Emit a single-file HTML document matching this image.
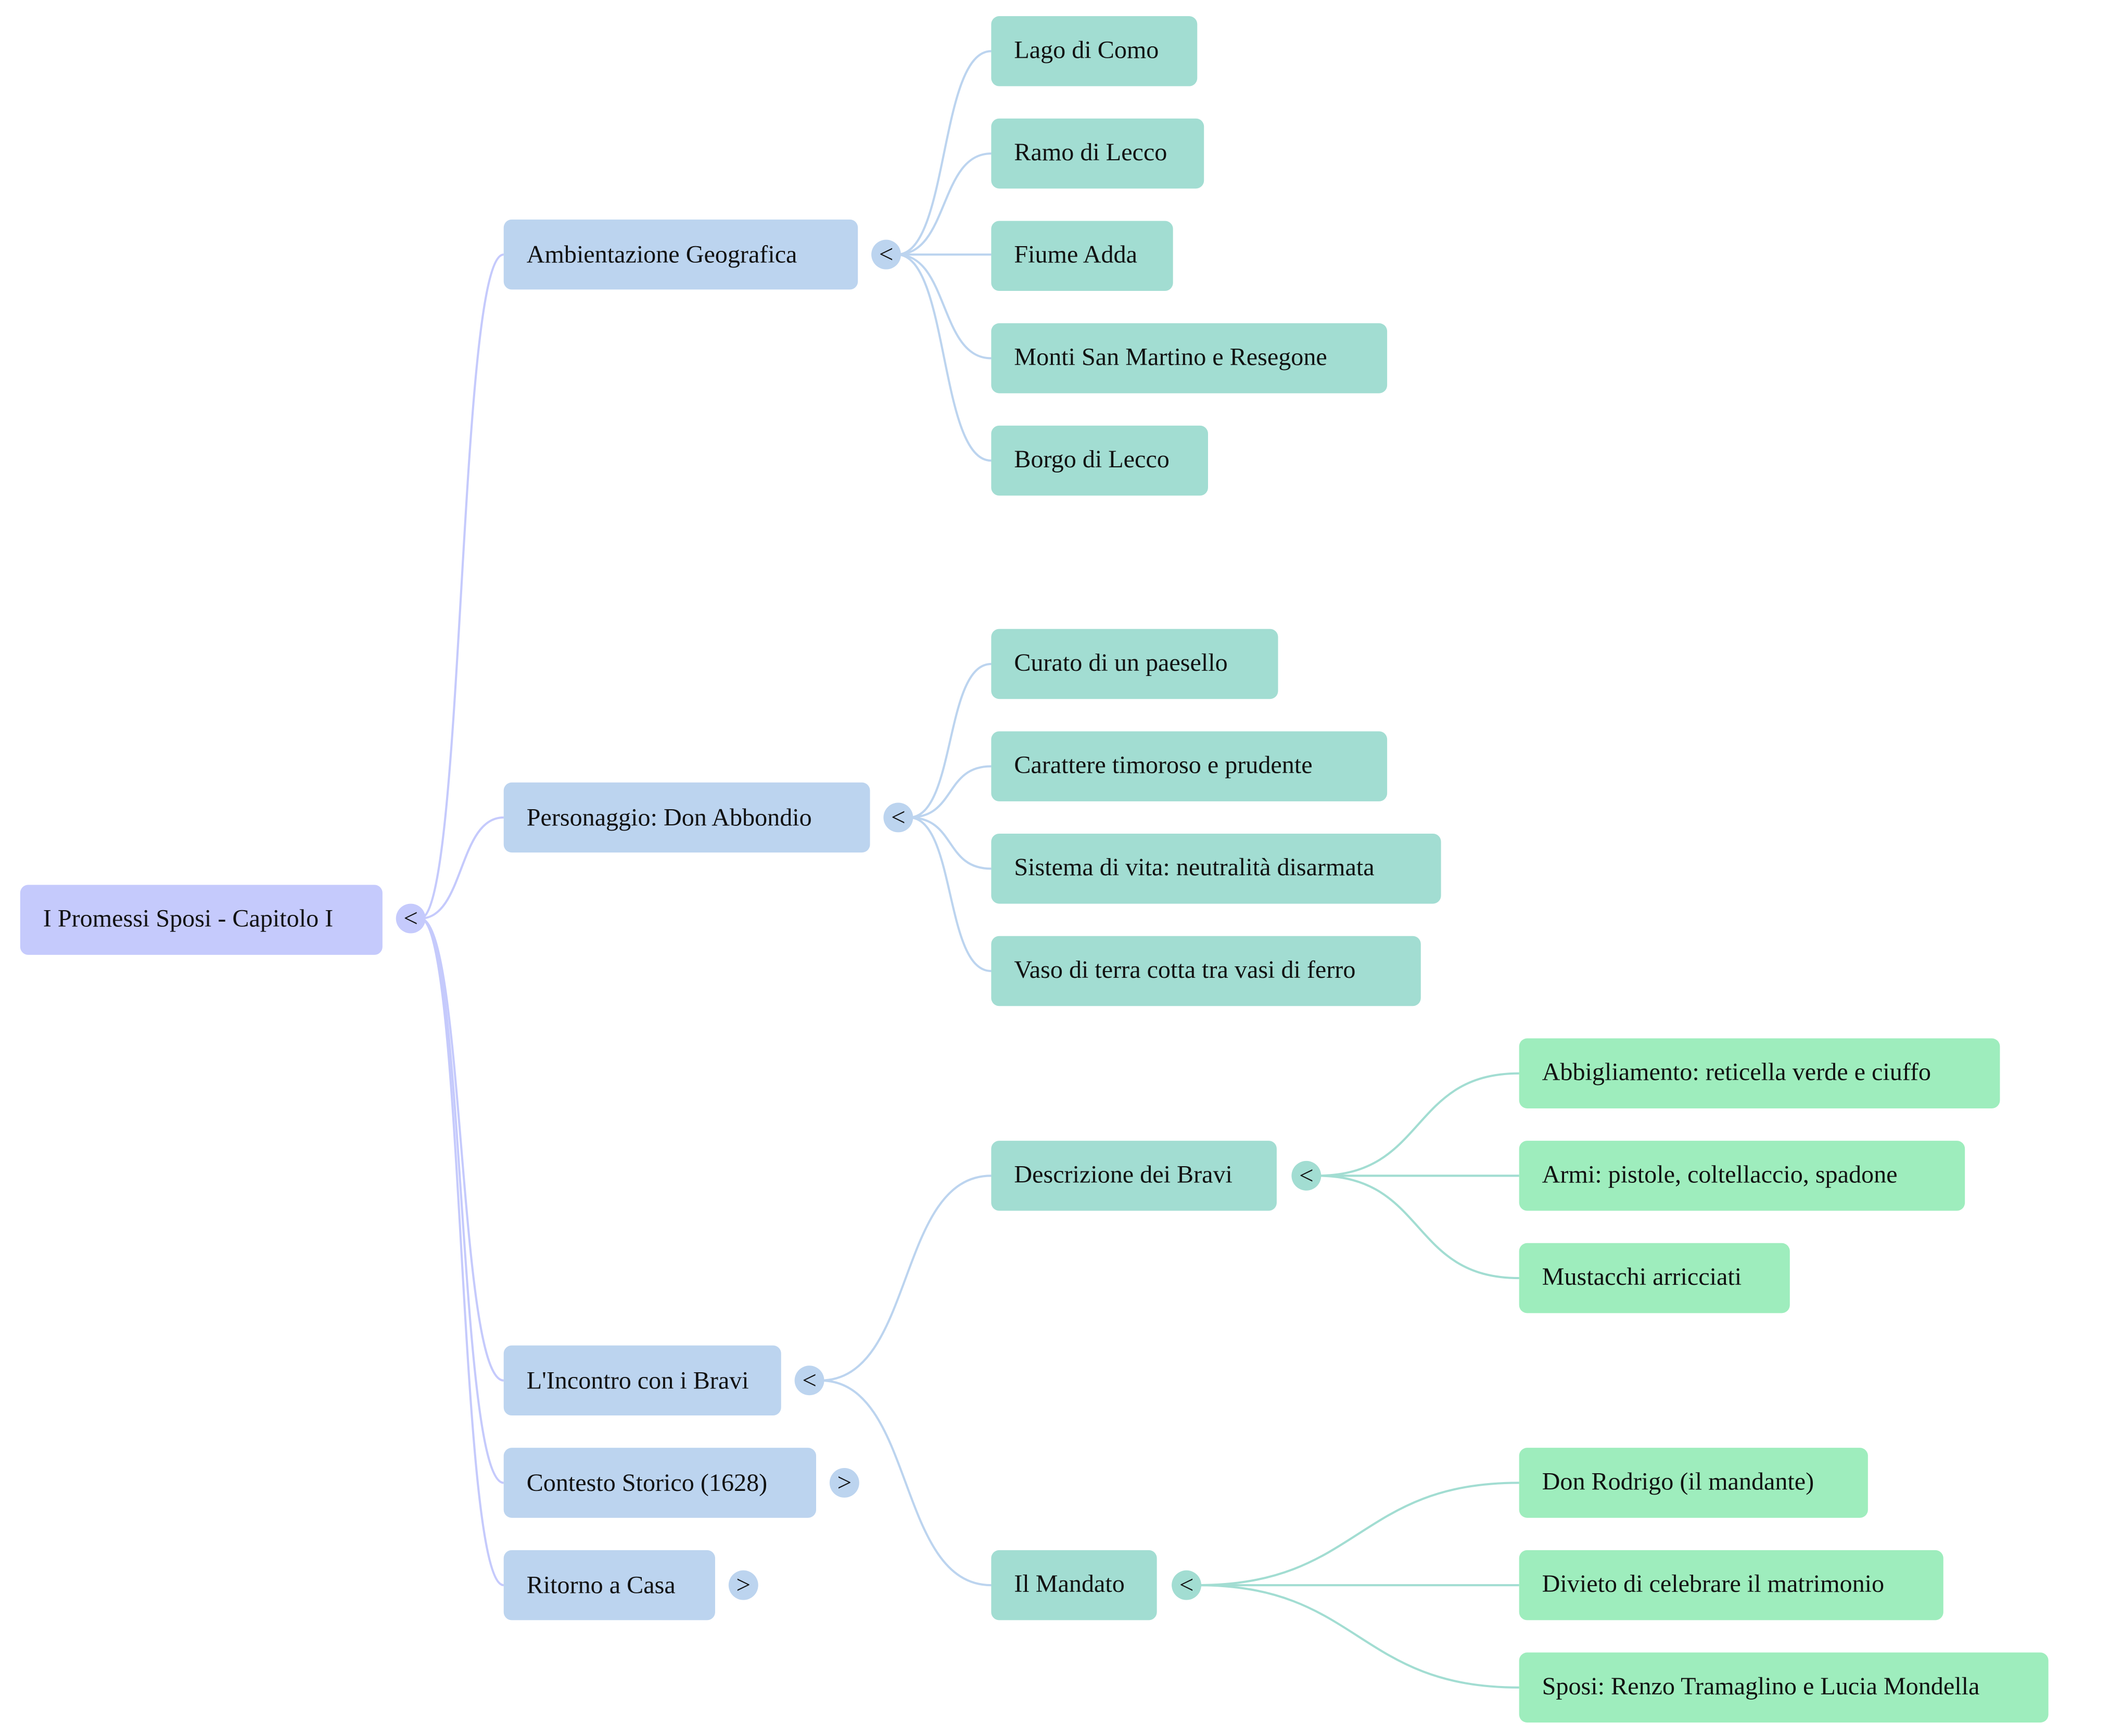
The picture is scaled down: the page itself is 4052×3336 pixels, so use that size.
<!DOCTYPE html>
<html><head><meta charset="utf-8"><style>
html,body{margin:0;padding:0;background:#fff;width:4052px;height:3336px;overflow:hidden}
svg{display:block}
text{font-family:"Liberation Serif",serif;font-size:18.6px;fill:#111}
.c{font-family:"Liberation Serif",serif;font-size:19px;text-anchor:middle}
</style></head><body>
<svg width="4052" height="3336" viewBox="0 0 1566 1289" preserveAspectRatio="none" xmlns="http://www.w3.org/2000/svg">
<g fill="none" stroke-width="1.6">
<g stroke="#c5cafc">
<path d="M312,682 C345,682 340,189 374,189"/>
<path d="M312,682 C345,682 340,607 374,607"/>
<path d="M312,682 C345,682 340,1025 374,1025"/>
<path d="M312,682 C345,682 340,1101 374,1101"/>
<path d="M312,682 C345,682 340,1177 374,1177"/>
</g>
<g stroke="#bcd4ef">
<path d="M666,189 C705,189 697,38 736,38"/>
<path d="M666,189 C705,189 697,114 736,114"/>
<path d="M666,189 L736,189"/>
<path d="M666,189 C705,189 697,266 736,266"/>
<path d="M666,189 C705,189 697,342 736,342"/>
<path d="M675,607 C710,607 701,493 736,493"/>
<path d="M675,607 C710,607 701,569 736,569"/>
<path d="M675,607 C710,607 701,645 736,645"/>
<path d="M675,607 C710,607 701,721 736,721"/>
<path d="M609,1025 C680,1025 665,873 736,873"/>
<path d="M609,1025 C680,1025 665,1177 736,1177"/>
</g>
<g stroke="#a2ddd2">
<path d="M978,873 C1060,873 1046,797 1128,797"/>
<path d="M978,873 L1128,873"/>
<path d="M978,873 C1060,873 1046,949 1128,949"/>
<path d="M889,1177 C1010,1177 1007,1101 1128,1101"/>
<path d="M889,1177 L1128,1177"/>
<path d="M889,1177 C1010,1177 1007,1253 1128,1253"/>
</g>
</g>
<rect x="15" y="657" width="269" height="52" rx="6" fill="#c5cafc"/>
<text x="32" y="688">I Promessi Sposi - Capitolo I</text>
<circle cx="305" cy="682" r="11" fill="#c5cafc"/><text class="c" x="305" y="688">&lt;</text>
<g fill="#bcd4ef">
<rect x="374" y="163" width="263" height="52" rx="6"/>
<rect x="374" y="581" width="272" height="52" rx="6"/>
<rect x="374" y="999" width="206" height="52" rx="6"/>
<rect x="374" y="1075" width="232" height="52" rx="6"/>
<rect x="374" y="1151" width="157" height="52" rx="6"/>
<circle cx="658" cy="189" r="11"/>
<circle cx="667" cy="607" r="11"/>
<circle cx="601" cy="1025" r="11"/>
<circle cx="627" cy="1101" r="11"/>
<circle cx="552" cy="1177" r="11"/>
</g>
<text x="391" y="195">Ambientazione Geografica</text>
<text x="391" y="613">Personaggio: Don Abbondio</text>
<text x="391" y="1031">L'Incontro con i Bravi</text>
<text x="391" y="1107">Contesto Storico (1628)</text>
<text x="391" y="1183">Ritorno a Casa</text>
<text class="c" x="658" y="195">&lt;</text>
<text class="c" x="667" y="613">&lt;</text>
<text class="c" x="601" y="1031">&lt;</text>
<text class="c" x="627" y="1107">&gt;</text>
<text class="c" x="552" y="1183">&gt;</text>
<g fill="#a2ddd2">
<rect x="736" y="12" width="153" height="52" rx="6"/>
<rect x="736" y="88" width="158" height="52" rx="6"/>
<rect x="736" y="164" width="135" height="52" rx="6"/>
<rect x="736" y="240" width="294" height="52" rx="6"/>
<rect x="736" y="316" width="161" height="52" rx="6"/>
<rect x="736" y="467" width="213" height="52" rx="6"/>
<rect x="736" y="543" width="294" height="52" rx="6"/>
<rect x="736" y="619" width="334" height="52" rx="6"/>
<rect x="736" y="695" width="319" height="52" rx="6"/>
<rect x="736" y="847" width="212" height="52" rx="6"/>
<rect x="736" y="1151" width="123" height="52" rx="6"/>
<circle cx="970" cy="873" r="11"/>
<circle cx="881" cy="1177" r="11"/>
</g>
<text x="753" y="43">Lago di Como</text>
<text x="753" y="119">Ramo di Lecco</text>
<text x="753" y="195">Fiume Adda</text>
<text x="753" y="271">Monti San Martino e Resegone</text>
<text x="753" y="347">Borgo di Lecco</text>
<text x="753" y="498">Curato di un paesello</text>
<text x="753" y="574">Carattere timoroso e prudente</text>
<text x="753" y="650">Sistema di vita: neutralità disarmata</text>
<text x="753" y="726">Vaso di terra cotta tra vasi di ferro</text>
<text x="753" y="878">Descrizione dei Bravi</text>
<text x="753" y="1182">Il Mandato</text>
<text class="c" x="970" y="879">&lt;</text>
<text class="c" x="881" y="1183">&lt;</text>
<g fill="#9eedbd">
<rect x="1128" y="771" width="357" height="52" rx="6"/>
<rect x="1128" y="847" width="331" height="52" rx="6"/>
<rect x="1128" y="923" width="201" height="52" rx="6"/>
<rect x="1128" y="1075" width="259" height="52" rx="6"/>
<rect x="1128" y="1151" width="315" height="52" rx="6"/>
<rect x="1128" y="1227" width="393" height="52" rx="6"/>
</g>
<text x="1145" y="802">Abbigliamento: reticella verde e ciuffo</text>
<text x="1145" y="878">Armi: pistole, coltellaccio, spadone</text>
<text x="1145" y="954">Mustacchi arricciati</text>
<text x="1145" y="1106">Don Rodrigo (il mandante)</text>
<text x="1145" y="1182">Divieto di celebrare il matrimonio</text>
<text x="1145" y="1258">Sposi: Renzo Tramaglino e Lucia Mondella</text>
</svg>
</body></html>
